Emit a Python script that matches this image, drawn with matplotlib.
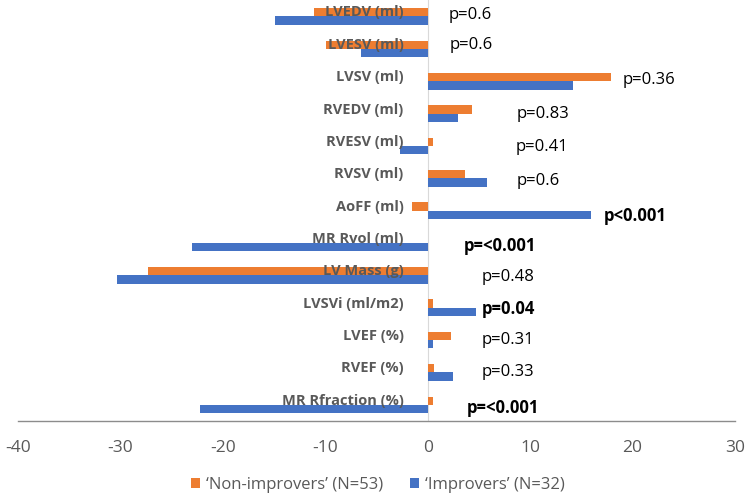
import matplotlib
matplotlib.use("Agg")
import matplotlib.pyplot as plt
import matplotlib.transforms as mtransforms
import numpy as np

categories = ["LVEDV (ml)", "LVESV (ml)", "LVSV (ml)", "RVEDV (ml)", "RVESV (ml)",
              "RVSV (ml)", "AoFF (ml)", "MR Rvol (ml)", "LV Mass (g)", "LVSVi (ml/m2)",
              "LVEF (%)", "RVEF (%)", "MR Rfraction (%)"]
non_improvers = [-11.1, -9.9, 17.9, 4.3, 0.5, 3.6, -1.5, 0.0, -27.3, 0.5, 2.3, 0.6, 0.5]
improvers = [-14.9, -6.5, 14.2, 3.0, -2.7, 5.8, 15.9, -23.0, -30.3, 4.7, 0.5, 2.5, -22.2]
p_labels = ["p=0.6", "p=0.6", "p=0.36", "p=0.83", "p=0.41", "p=0.6", "p<0.001",
            "p=<0.001", "p=0.48", "p=0.04", "p=0.31", "p=0.33", "p=<0.001"]
p_bold = [False, False, False, False, False, False, True, True, False, True, False, False, True]
# annotation layout (x start in data units, y shift in category units)
p_x = [2.0, 2.1, 19.0, 8.7, 8.6, 8.7, 17.2, 3.5, 5.3, 5.3, 5.3, 5.3, 3.8]
p_dy = [-0.05, -0.12, -0.03, 0.0, 0.03, 0.09, 0.15, 0.08, 0.06, 0.05, 0.0, 0.0, 0.1]
xticks = [-40, -30, -20, -10, 0, 10, 20, 30]

ORANGE = "#ED7D31"
BLUE = "#4472C4"
GRAY = "#595959"
FONT = ["Open Sans", "DejaVu Sans"]

fig = plt.figure(figsize=(7.5, 4.95), dpi=100)
ax = fig.add_axes([18 / 750, 1 - 421 / 495, (735 - 18) / 750, (421 - 0.3) / 495])

y = np.arange(len(categories))
h = 0.257
ax.barh(y - h / 2, non_improvers, height=h, color=ORANGE, label="\u2018Non-improvers\u2019 (N=53)", zorder=2)
ax.barh(y + h / 2, improvers, height=h, color=BLUE, label="\u2018Improvers\u2019 (N=32)", zorder=2)

ax.set_xlim(-40, 30)
ax.set_ylim(len(categories) - 0.5, -0.5)
ax.axvline(0, color="#D9D9D9", lw=0.8, zorder=1)

for s in ["top", "right", "left"]:
    ax.spines[s].set_visible(False)
ax.spines["bottom"].set_color("#8C8C8C")
ax.spines["bottom"].set_linewidth(1.0)
ax.set_yticks([])
ax.set_xticks(xticks)
ax.set_xticklabels([str(t) for t in xticks], fontsize=12.5, color=GRAY, family=FONT)
ax.tick_params(axis="x", length=0, pad=14)

lab_tr = mtransforms.offset_copy(ax.transData, fig=fig, x=-24, y=4, units="dots")
for i, c in enumerate(categories):
    ax.text(0, i, c, transform=lab_tr, ha="right", va="center", fontsize=10.5,
            fontweight="bold", color=GRAY, family=FONT, zorder=3)

for i, (t, b) in enumerate(zip(p_labels, p_bold)):
    ax.text(p_x[i], i + p_dy[i], t, ha="left", va="center", fontsize=12,
            fontweight="bold" if b else "normal", color="black", family=FONT, zorder=3)

leg = fig.legend(loc="center", bbox_to_anchor=(378 / 750, 1 - 485 / 495), ncol=2,
                 frameon=False, handlelength=0.55, handleheight=0.55,
                 handletextpad=0.35, columnspacing=1.6, prop={"family": FONT, "size": 12})
for t in leg.get_texts():
    t.set_color(GRAY)

fig.savefig("out.png", dpi=100)
